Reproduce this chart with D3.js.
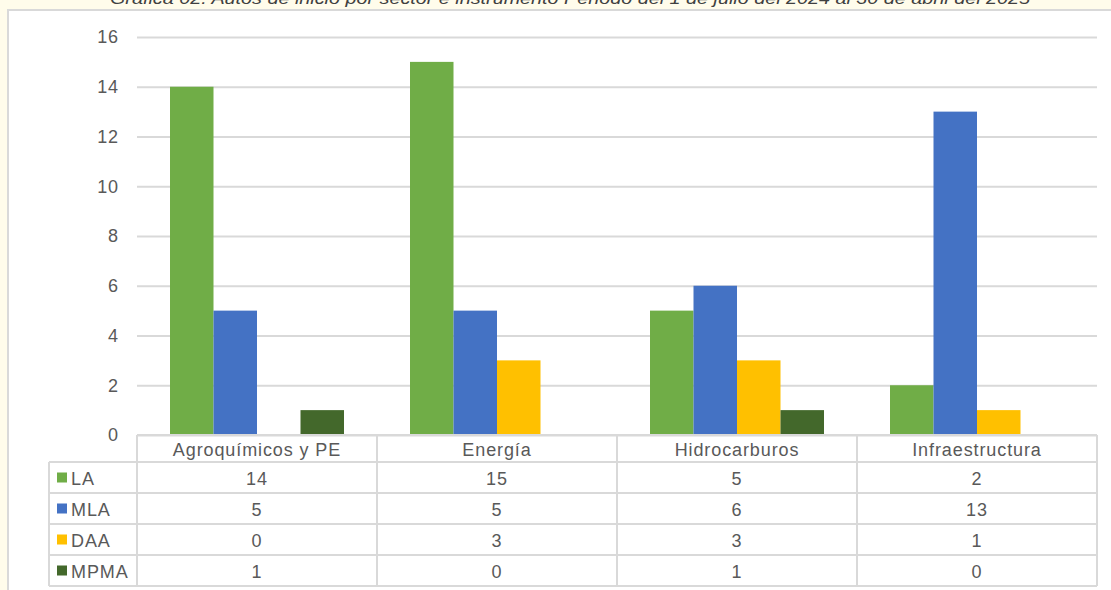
<!DOCTYPE html>
<html><head><meta charset="utf-8">
<script src="https://cdn.jsdelivr.net/npm/d3@7"></script>
<style>
html,body{margin:0;padding:0;background:#FFFCEB;}
svg{display:block;}
</style></head>
<body>
<svg id="c" width="1111" height="590"></svg>
<script>
const categories = ["Agroquímicos y PE", "Energía", "Hidrocarburos", "Infraestructura"];
const seriesNames = ["LA", "MLA", "DAA", "MPMA"];
const LA = [14, 15, 5, 2];
const MLA = [5, 5, 6, 13];
const DAA = [0, 3, 3, 1];
const MPMA = [1, 0, 1, 0];
const yTicks = [0, 2, 4, 6, 8, 10, 12, 14, 16];
const title = "Gráfica 02. Autos de inicio por sector e instrumento Periodo del 1 de julio del 2024 al 30 de abril del 2025";

const seriesValues = [LA, MLA, DAA, MPMA];
const colors = ["#70AD47", "#4472C4", "#FFC000", "#43682B"];

const svg = d3.select("#c");
const font = "'Liberation Sans', Arial, sans-serif";
const textColor = "#595959";
const gridColor = "#D9D9D9";
const fs = 18, ls = 0.9;

// outer white chart box
svg.append("rect").attr("x", 8).attr("y", 10).attr("width", 1120).attr("height", 600)
  .attr("fill", "#fff").attr("stroke", "#D9D9D9").attr("stroke-width", 2);

// title (cut at top, as in the reference)
svg.append("text").attr("x", 570).attr("y", 4).attr("text-anchor", "middle")
  .attr("font-family", "'Liberation Sans Narrow', 'Liberation Sans', Arial, sans-serif")
  .attr("font-style", "italic").attr("font-size", 16).attr("fill", "#404040")
  .attr("textLength", 920).attr("lengthAdjust", "spacingAndGlyphs")
  .text(title);

const plotL = 137, plotR = 1097, plotT = 37, plotB = 435;
const x = d3.scaleBand().domain(categories).range([plotL, plotR]).paddingInner(0).paddingOuter(0);
const y = d3.scaleLinear().domain([0, 16]).range([plotB, plotT]);
const groupPad = 33;
const xs = d3.scaleBand().domain(seriesNames).range([groupPad, x.bandwidth() - groupPad]).padding(0);

// gridlines
const yAxis = d3.axisLeft(y).tickValues(yTicks).tickSize(-(plotR - plotL)).tickPadding(18);
const gy = svg.append("g").attr("transform", `translate(${plotL},0)`).call(yAxis);
gy.select(".domain").remove();
gy.selectAll(".tick line").attr("stroke", gridColor).attr("stroke-width", 2);
gy.selectAll(".tick text").attr("font-family", font).attr("font-size", fs).attr("fill", textColor)
  .attr("letter-spacing", ls);

// bars
seriesNames.forEach((s, si) => {
  svg.append("g").selectAll("rect").data(categories).join("rect")
    .attr("x", c => x(c) + xs(s))
    .attr("width", xs.bandwidth())
    .attr("y", (c, i) => y(seriesValues[si][i]))
    .attr("height", (c, i) => y(0) - y(seriesValues[si][i]))
    .attr("fill", colors[si]);
});

// data table
const headerTop = plotB, headerBot = 462;
const rowH = 31;
const legendL = 49;
const tableBottom = headerBot + rowH * seriesNames.length;
const g = svg.append("g");
const line = (x1, y1, x2, y2) => g.append("line").attr("x1", x1).attr("y1", y1).attr("x2", x2).attr("y2", y2)
  .attr("stroke", gridColor).attr("stroke-width", 2);

line(plotL, headerTop, plotR, headerTop);
for (let r = 0; r <= seriesNames.length; r++) {
  const yy = headerBot + r * rowH;
  line(legendL, yy, plotR, yy);
}
categories.forEach(c => line(x(c), headerTop, x(c), tableBottom));
line(plotR, headerTop, plotR, tableBottom);
line(legendL, headerBot, legendL, tableBottom);

// category labels
g.selectAll("text.cat").data(categories).join("text").attr("class", "cat")
  .attr("x", c => x(c) + x.bandwidth() / 2).attr("y", (headerTop + headerBot) / 2 + 7)
  .attr("text-anchor", "middle").attr("font-family", font).attr("font-size", fs).attr("fill", textColor)
  .attr("letter-spacing", ls)
  .text(c => c);

seriesNames.forEach((s, si) => {
  const cy = headerBot + si * rowH + rowH / 2;
  g.append("rect").attr("x", 57).attr("y", cy - 5).attr("width", 10).attr("height", 10).attr("fill", colors[si]);
  g.append("text").attr("x", 71).attr("y", cy + 7).attr("font-family", font).attr("font-size", fs)
    .attr("letter-spacing", ls).attr("fill", textColor).text(s);
  g.selectAll(null).data(categories).join("text")
    .attr("x", c => x(c) + x.bandwidth() / 2).attr("y", cy + 7)
    .attr("text-anchor", "middle").attr("font-family", font).attr("font-size", fs).attr("fill", textColor)
    .attr("letter-spacing", ls)
    .text((c, i) => seriesValues[si][i]);
});
</script>
</body></html>
